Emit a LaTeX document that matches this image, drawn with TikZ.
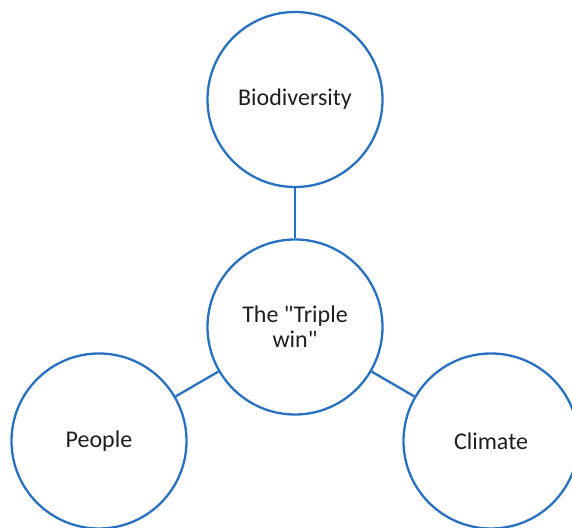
\documentclass[tikz,border=0pt]{standalone}
\usepackage{fontspec}
\setmainfont{Carlito}[Ligatures=TeXOff]
\definecolor{ringblue}{RGB}{40,112,192}
\definecolor{textgray}{RGB}{30,30,30}
\tikzset{
	ring/.style={circle, draw=ringblue, line width=2.3pt, minimum size=175pt, inner sep=0pt,
		text=textgray, align=center, font=\fontsize{24}{25}\selectfont},
	link/.style={draw=ringblue, line width=2.3pt}
}
\begin{document}
\begin{tikzpicture}[x=1pt,y=1pt]
		% Rahmen
		\useasboundingbox (0,0) rectangle (572,527);
		\clip (0,0) rectangle (572,527);
		% Kreise
		\node [ring] (bio) at (295,427.5) {Biodiversity};
		\node [ring] (win) at (295,200) {The "Triple\\win"};
		\node [ring] (people) at (99,86) {People};
		\node [ring] (climate) at (491,86) {Climate};
		% Verbindungen
		\draw [link] (bio) -- (win);
		\draw [link] (win) -- (people);
		\draw [link] (win) -- (climate);
\end{tikzpicture}
\end{document}
